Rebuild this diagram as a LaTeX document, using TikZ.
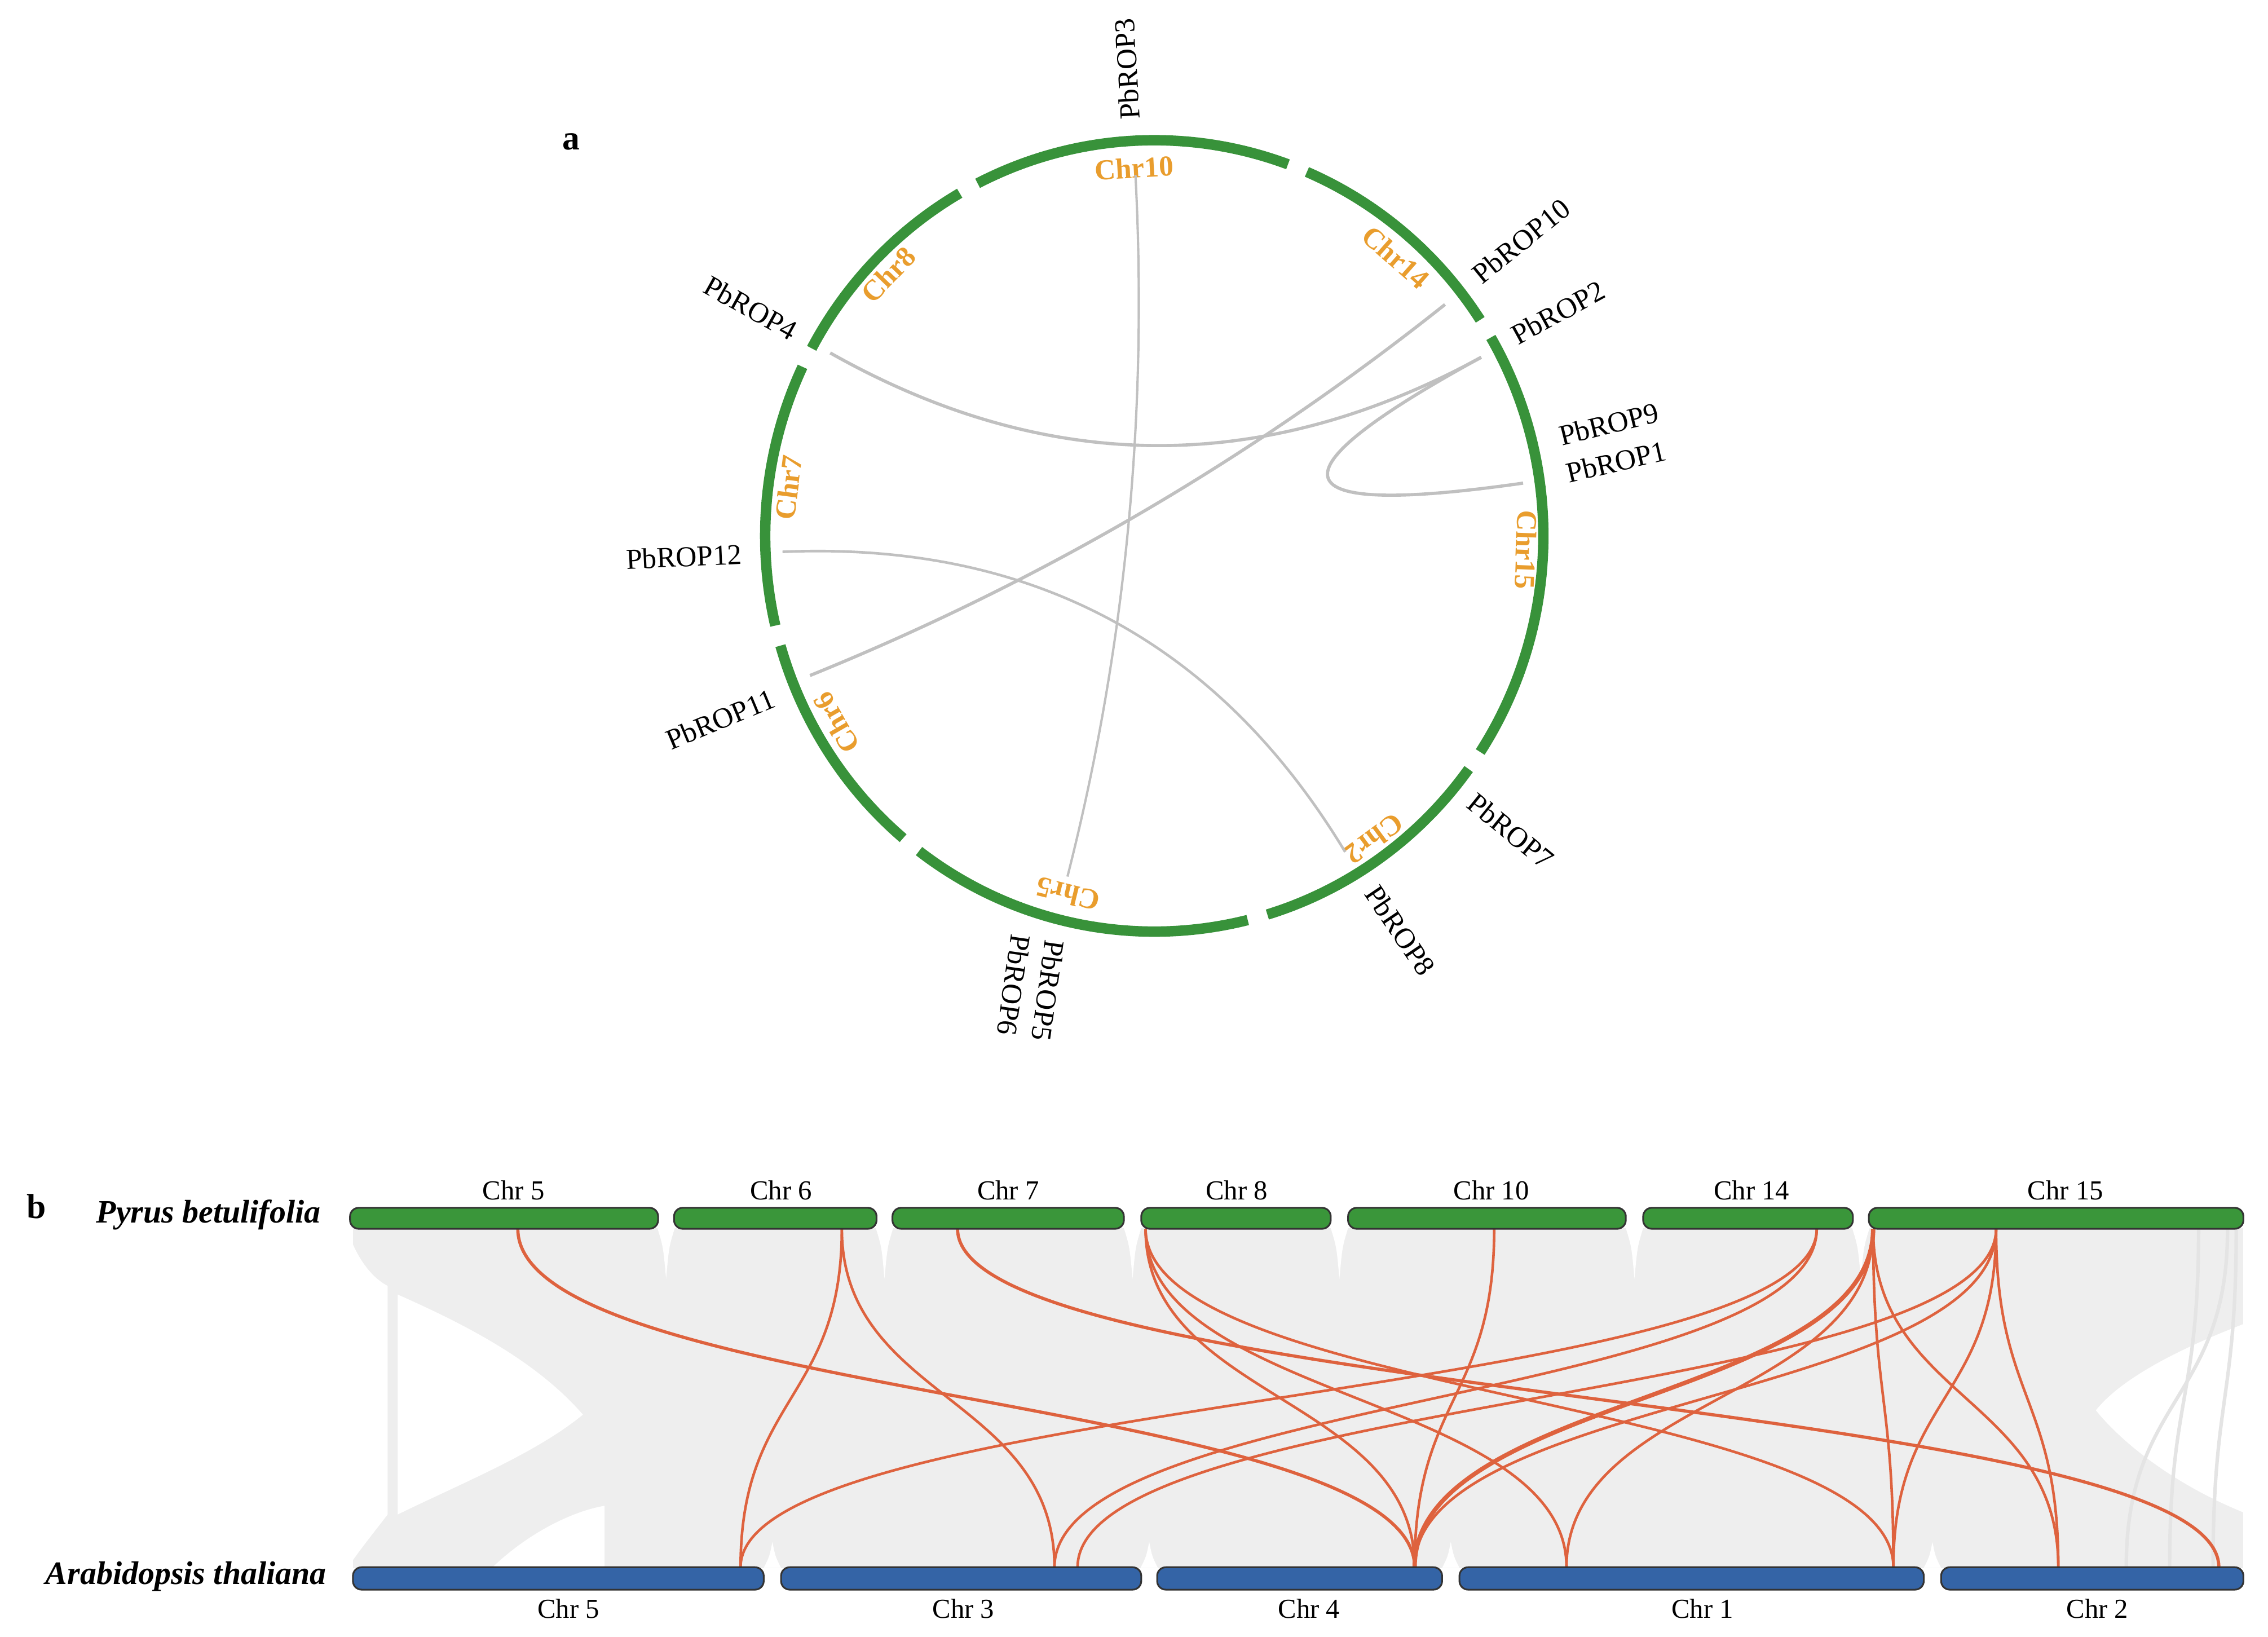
\documentclass[tikz,border=0pt]{standalone}
\usepackage{fontspec}
\setmainfont{Liberation Serif}
\usetikzlibrary{calc}
\definecolor{ringgreen}{RGB}{56,146,58}
\definecolor{bargreen}{RGB}{58,150,58}
\definecolor{barblue}{RGB}{52,100,166}
\definecolor{chrorange}{RGB}{233,157,45}
\definecolor{linkgray}{RGB}{192,192,192}
\definecolor{synred}{RGB}{222,98,62}
\definecolor{bggray}{RGB}{238,238,238}
\definecolor{faintgray}{RGB}{228,228,228}
\newcommand\circlink[3][]{\draw[clink,#1] (#2) .. controls ($(#2)!0.667!(cc)$) and ($(#3)!0.667!(cc)$) .. (#3);}
\newcommand\synlink[3][]{\draw[rlink,#1] (#2) .. controls ($(#2)+(0,118)$) and ($(#3)+(0,-118)$) .. (#3);}
\newcommand\topspike[1]{\fill[white] ({#1-6},849) .. controls ({#1-2},862) .. ({#1},884) .. controls ({#1+2},862) .. ({#1+6},849) -- cycle;}
\newcommand\botspike[1]{\fill[white] ({#1-6},1084) .. controls ({#1-2},1076) .. ({#1},1066) .. controls ({#1+2},1076) .. ({#1+6},1084) -- cycle;}
\begin{document}
\begin{tikzpicture}[x=0.5pt,y=-0.5pt,
 ring/.style={draw=ringgreen,line width=3.6pt},
 chrlab/.style={text=chrorange,font=\fontsize{10}{12}\selectfont\bfseries,inner sep=0pt},
 genelab/.style={font=\fontsize{10}{12}\selectfont,inner sep=0pt},
 clink/.style={draw=linkgray,line width=1.1pt},
 rlink/.style={draw=synred,line width=0.9pt},
 gbar/.style={fill=bargreen,draw=black!80,line width=0.6pt,rounded corners=3pt},
 bbar/.style={fill=barblue,draw=black!80,line width=0.6pt,rounded corners=3pt},
 barlab/.style={font=\fontsize{9.5}{11}\selectfont,inner sep=0pt},
 species/.style={font=\fontsize{11.3}{13}\selectfont\bfseries\itshape,inner sep=0pt,anchor=east},
 panel/.style={font=\fontsize{12}{14}\selectfont\bfseries,inner sep=0pt}]
\useasboundingbox (0,0) rectangle (1568,1131.4);
\fill[white] (0,0) rectangle (1568,1131.4);

% ---------------- panel a ----------------
\node[panel] (pa) at (395,98) {a};
\coordinate (cc) at (798,370.5);
\begin{scope}[shift={(798,370.5)},yscale=-1.017]
 \draw[ring] (117:269) arc[start angle=117,end angle=69.9,radius=269];
 \draw[ring] (66.9:269) arc[start angle=66.9,end angle=33.1,radius=269];
 \draw[ring] (30.1:269) arc[start angle=30.1,end angle=-33.1,radius=269];
 \draw[ring] (-36.1:269) arc[start angle=-36.1,end angle=-73.1,radius=269];
 \draw[ring] (-76.1:269) arc[start angle=-76.1,end angle=-127.2,radius=269];
 \draw[ring] (-130.2:269) arc[start angle=-130.2,end angle=-163.9,radius=269];
 \draw[ring] (193.1:269) arc[start angle=193.1,end angle=154.7,radius=269];
 \draw[ring] (151.7:269) arc[start angle=151.7,end angle=120,radius=269];
 \node[chrlab,rotate=3.2] (c10) at (93.2:250.6) {Chr10};
 \node[chrlab,rotate=-41.4] (c14) at (48.6:252.4) {Chr14};
 \node[chrlab,rotate=-92.1] (c15) at (-2.1:257.2) {Chr15};
 \node[chrlab,rotate=-143.6] (c2) at (-53.6:256) {Chr2};
 \node[chrlab,rotate=166.2] (c5) at (-103.8:250.7) {Chr5};
 \node[chrlab,rotate=120] (c6) at (-150:254) {Chr6};
 \node[chrlab,rotate=82.6] (c7) at (172.6:255) {Chr7};
 \node[chrlab,rotate=46] (c8) at (136:255.7) {Chr8};
 \node[genelab,anchor=west,rotate=93.4] (g3) at (93.4:283.2) {PbROP3};
 \node[genelab,anchor=west,rotate=39] (g10) at (38.3:283) {PbROP10};
 \node[genelab,anchor=west,rotate=28.6] (g2) at (28.6:282.5) {PbROP2};
 \node[genelab,anchor=west,rotate=14] (g9) at (13.6:288) {PbROP9};
 \node[genelab,anchor=west,rotate=13] (g1) at (8.5:288) {PbROP1};
 \node[genelab,anchor=west,rotate=-39] (g7) at (-39.2:282.5) {PbROP7};
 \node[genelab,anchor=west,rotate=-56] (g8) at (-57.9:282.5) {PbROP8};
 \node[genelab,anchor=west,rotate=-98] (g5) at (-104:283) {PbROP5};
 \node[genelab,anchor=west,rotate=-98] (g6) at (-108.8:286) {PbROP6};
 \node[genelab,anchor=east,rotate=2.5] (g12) at (182.5:285) {PbROP12};
 \node[genelab,anchor=east,rotate=22.6] (g11) at (202.6:285) {PbROP11};
 \node[genelab,anchor=east,rotate=-29.1] (g4) at (150.9:284) {PbROP4};
\end{scope}
\coordinate (e3) at (785,121);
\coordinate (e5) at (738,606);
\coordinate (e4) at (574,244);
\coordinate (e2) at (1024,247);
\coordinate (e10) at (999,210.5);
\coordinate (e11) at (560,467);
\coordinate (e1) at (1053,334);
\coordinate (e12) at (541,381.5);
\coordinate (e8) at (930,589);
\circlink[line width=0.8pt]{e3}{e5}
\circlink{e4}{e2}
\circlink{e10}{e11}
\circlink{e2}{e1}
\circlink[line width=0.9pt]{e12}{e8}

% ---------------- panel b ----------------
\fill[bggray] (244,849) rectangle (1551,1084);
% white gaps in the ribbon field
\fill[white] (243,858) .. controls (250,875) and (260,885) .. (268,889) -- (268,1047) .. controls (258,1060) and (250,1070) .. (243,1080) -- cycle;
\fill[white] (275,895) .. controls (320,915) and (370,940) .. (403,978) .. controls (370,1005) and (320,1025) .. (275,1047) -- cycle;
\fill[white] (340,1084) .. controls (365,1060) and (395,1045) .. (418,1041) -- (418,1084) -- cycle;
\fill[white] (1552,915) .. controls (1500,935) and (1465,955) .. (1449,975) .. controls (1465,995) and (1500,1025) .. (1552,1046) -- cycle;
\draw[faintgray,line width=1.2pt] (1540,850) .. controls (1540,968) and (1470,966) .. (1470,1083);
\draw[faintgray,line width=1.2pt] (1520,850) .. controls (1520,968) and (1500,966) .. (1500,1083);
\draw[faintgray,line width=1.2pt] (1546,850) .. controls (1546,968) and (1530,966) .. (1530,1083);
\topspike{460.5}\topspike{611.5}\topspike{783}\topspike{926}\topspike{1130}\topspike{1286.5}
\botspike{534}\botspike{794.5}\botspike{1003}\botspike{1336}

\coordinate (t358) at (358,849.5);
\coordinate (t582) at (582,849.5);
\coordinate (t662) at (662,849.5);
\coordinate (t792) at (792,849.5);
\coordinate (t1033) at (1033,849.5);
\coordinate (t1256) at (1256,849.5);
\coordinate (t1295) at (1295,849.5);
\coordinate (t1380) at (1380,849.5);
\coordinate (b512) at (512,1083.5);
\coordinate (b729) at (729,1083.5);
\coordinate (b745) at (745,1083.5);
\coordinate (b978) at (978,1083.5);
\coordinate (b1083) at (1083,1083.5);
\coordinate (b1309) at (1309,1083.5);
\coordinate (b1423) at (1423,1083.5);
\coordinate (b1534) at (1534,1083.5);

\synlink[line width=1.1pt]{t358}{b978}
\synlink{t582}{b512}
\synlink{t582}{b729}
\synlink[line width=1.1pt]{t662}{b1534}
\synlink{t792}{b978}
\synlink{t792}{b1083}
\synlink{t792}{b1309}
\synlink{t1033}{b978}
\synlink{t1256}{b512}
\synlink{t1256}{b729}
\synlink[line width=1.5pt]{t1295}{b978}
\synlink{t1295}{b1083}
\synlink{t1295}{b1309}
\synlink{t1295}{b1423}
\synlink{t1380}{b745}
\synlink{t1380}{b978}
\synlink{t1380}{b1309}
\synlink{t1380}{b1423}

% chromosome bars
\draw[gbar] (242,835) rectangle (455,849.5);
\draw[gbar] (466,835) rectangle (606,849.5);
\draw[gbar] (617,835) rectangle (777,849.5);
\draw[gbar] (789,835) rectangle (920,849.5);
\draw[gbar] (932,835) rectangle (1124,849.5);
\draw[gbar] (1136,835) rectangle (1281,849.5);
\draw[gbar] (1292,835) rectangle (1551,849.5);
\draw[bbar] (244,1083.5) rectangle (528,1099);
\draw[bbar] (540,1083.5) rectangle (789,1099);
\draw[bbar] (800,1083.5) rectangle (997,1099);
\draw[bbar] (1009,1083.5) rectangle (1330,1099);
\draw[bbar] (1342,1083.5) rectangle (1551,1099);

\node[barlab] (lt5) at (355,823) {Chr 5};
\node[barlab] (lt6) at (540,823) {Chr 6};
\node[barlab] (lt7) at (697,823) {Chr 7};
\node[barlab] (lt8) at (855,823) {Chr 8};
\node[barlab] (lt10) at (1031,823) {Chr 10};
\node[barlab] (lt14) at (1211,823) {Chr 14};
\node[barlab] (lt15) at (1428,823) {Chr 15};
\node[barlab] (lb5) at (393,1112) {Chr 5};
\node[barlab] (lb3) at (666,1112) {Chr 3};
\node[barlab] (lb4) at (905,1112) {Chr 4};
\node[barlab] (lb1) at (1177,1112) {Chr 1};
\node[barlab] (lb2) at (1450,1112) {Chr 2};

\node[panel] (pb) at (25,834) {b};
\node[species] (sp1) at (222,840) {Pyrus betulifolia};
\node[species] (sp2) at (226,1090) {Arabidopsis thaliana};
\end{tikzpicture}
\end{document}
